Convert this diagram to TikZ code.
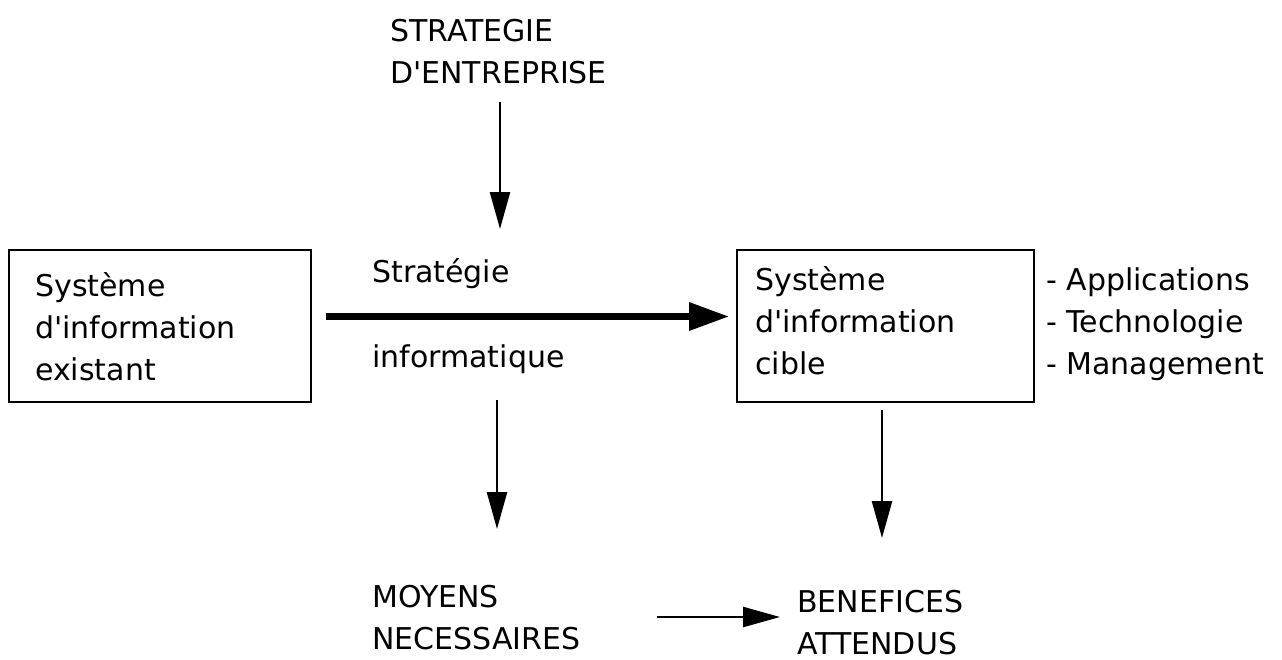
\documentclass[tikz,border=0pt]{standalone}
\usepackage{fontspec}
\setmainfont{DejaVu Sans}[Ligatures=TeXOff]
\usetikzlibrary{arrows.meta}
\begin{document}
\begin{tikzpicture}[x=1pt,y=-1pt,
  txt/.style={inner sep=0pt,anchor=base west,align=left,font=\fontsize{30}{42}\selectfont},
  boxnode/.style={draw,line width=2.5pt,minimum width=#1,inner sep=0pt,minimum height=152pt},
  thinarr/.style={line width=2.5pt,-{Triangle[length=37pt,width=20pt]}},
  thickarr/.style={line width=6.5pt,-{Triangle[length=40pt,width=27pt]}}]
\useasboundingbox (0,0) rectangle (1282,659);
% boxes
\node[boxnode=302pt] (b1) at (160,326) {};
\node[boxnode=297pt] (b2) at (885.5,326) {};
% texts (anchored at the baseline of the last line)
\node[txt] (se) at (390,83) {STRATEGIE\\D'ENTREPRISE};
\node[txt] (t1) at (35,380) {Système\\d'information\\existant};
\node[txt] (t2) at (755,374) {Système\\d'information\\cible};
\node[txt] (lst) at (1046,374) {- Applications\\- Technologie\\- Management};
\node[txt] (s1) at (372,282) {Stratégie};
\node[txt] (s2) at (372,367) {informatique};
\node[txt] (mn) at (372,649) {MOYENS\\NECESSAIRES};
\node[txt] (ba) at (797,654) {BENEFICES\\ATTENDUS};
% connector ends
\coordinate (a1s) at (500,102); \coordinate (a1e) at (500,229);
\coordinate (a2s) at (326,316.5); \coordinate (a2e) at (729,316.5);
\coordinate (a3s) at (497,400); \coordinate (a3e) at (497,529);
\coordinate (a4s) at (882,410); \coordinate (a4e) at (882,538);
\coordinate (a5s) at (657,617); \coordinate (a5e) at (780,617);
\draw[thinarr] (a1s) -- (a1e);
\draw[thickarr] (a2s) -- (a2e);
\draw[thinarr] (a3s) -- (a3e);
\draw[thinarr] (a4s) -- (a4e);
\draw[thinarr] (a5s) -- (a5e);
\end{tikzpicture}
\end{document}
